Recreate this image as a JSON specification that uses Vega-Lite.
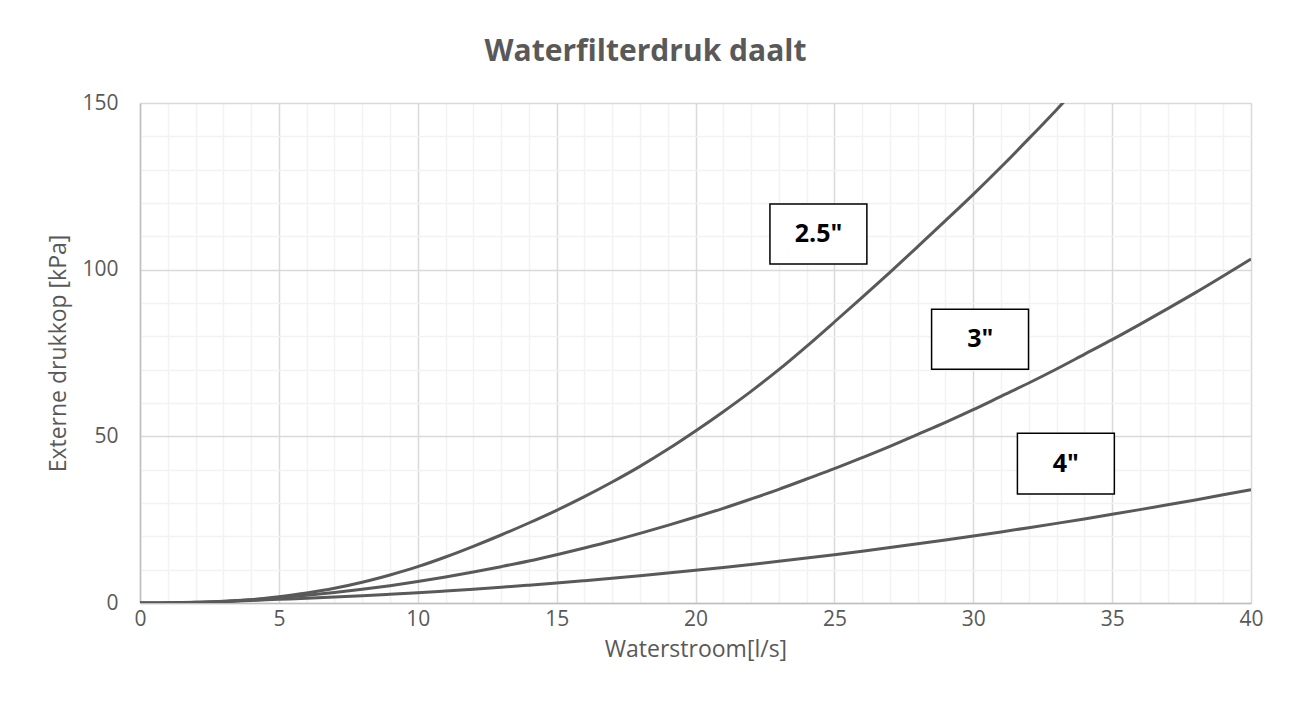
{
  "$schema": "https://vega.github.io/schema/vega-lite/v6.json",
  "width": 1111,
  "height": 500,
  "autosize": {"type": "none"},
  "padding": {"left": 140, "top": 103, "right": 40, "bottom": 117},
  "background": "white",
  "config": {
    "font": "Open Sans",
    "view": {"stroke": null},
    "axis": {"labelColor": "#595959", "titleColor": "#595959", "titleFontWeight": "normal"}
  },
  "title": {
    "text": "Waterfilterdruk daalt",
    "fontSize": 30,
    "fontWeight": "bold",
    "color": "#595959",
    "anchor": "middle",
    "dx": -50,
    "offset": 25
  },
  "datasets": {
    "curves": [
      {"size": "2.5\"", "flow": 0, "pressure": 0}, {"size": "2.5\"", "flow": 1, "pressure": 0}, {"size": "2.5\"", "flow": 2, "pressure": 0.1}, {"size": "2.5\"", "flow": 3, "pressure": 0.4}, {"size": "2.5\"", "flow": 4, "pressure": 1.0}, {"size": "2.5\"", "flow": 5, "pressure": 1.9}, {"size": "2.5\"", "flow": 6, "pressure": 3.0}, {"size": "2.5\"", "flow": 7, "pressure": 4.4}, {"size": "2.5\"", "flow": 8, "pressure": 6.2}, {"size": "2.5\"", "flow": 9, "pressure": 8.4}, {"size": "2.5\"", "flow": 10, "pressure": 10.9}, {"size": "2.5\"", "flow": 11, "pressure": 13.8}, {"size": "2.5\"", "flow": 12, "pressure": 17.0}, {"size": "2.5\"", "flow": 13, "pressure": 20.4}, {"size": "2.5\"", "flow": 14, "pressure": 24.0}, {"size": "2.5\"", "flow": 15, "pressure": 27.8}, {"size": "2.5\"", "flow": 16, "pressure": 31.9}, {"size": "2.5\"", "flow": 17, "pressure": 36.3}, {"size": "2.5\"", "flow": 18, "pressure": 41.0}, {"size": "2.5\"", "flow": 19, "pressure": 46.1}, {"size": "2.5\"", "flow": 20, "pressure": 51.6}, {"size": "2.5\"", "flow": 21, "pressure": 57.4}, {"size": "2.5\"", "flow": 22, "pressure": 63.5}, {"size": "2.5\"", "flow": 23, "pressure": 70.0}, {"size": "2.5\"", "flow": 24, "pressure": 77.0}, {"size": "2.5\"", "flow": 25, "pressure": 84.3}, {"size": "2.5\"", "flow": 26, "pressure": 91.7}, {"size": "2.5\"", "flow": 27, "pressure": 99.2}, {"size": "2.5\"", "flow": 28, "pressure": 106.9}, {"size": "2.5\"", "flow": 29, "pressure": 114.7}, {"size": "2.5\"", "flow": 30, "pressure": 122.6}, {"size": "2.5\"", "flow": 31, "pressure": 130.8}, {"size": "2.5\"", "flow": 32, "pressure": 139.3}, {"size": "2.5\"", "flow": 33, "pressure": 148.0}, {"size": "2.5\"", "flow": 34, "pressure": 157.0},
      {"size": "3\"", "flow": 0, "pressure": 0}, {"size": "3\"", "flow": 1, "pressure": 0.05}, {"size": "3\"", "flow": 2, "pressure": 0.2}, {"size": "3\"", "flow": 3, "pressure": 0.55}, {"size": "3\"", "flow": 4, "pressure": 1.0}, {"size": "3\"", "flow": 5, "pressure": 1.6}, {"size": "3\"", "flow": 6, "pressure": 2.3}, {"size": "3\"", "flow": 7, "pressure": 3.15}, {"size": "3\"", "flow": 8, "pressure": 4.1}, {"size": "3\"", "flow": 9, "pressure": 5.2}, {"size": "3\"", "flow": 10, "pressure": 6.45}, {"size": "3\"", "flow": 11, "pressure": 7.8}, {"size": "3\"", "flow": 12, "pressure": 9.3}, {"size": "3\"", "flow": 13, "pressure": 10.9}, {"size": "3\"", "flow": 14, "pressure": 12.6}, {"size": "3\"", "flow": 15, "pressure": 14.5}, {"size": "3\"", "flow": 16, "pressure": 16.5}, {"size": "3\"", "flow": 17, "pressure": 18.6}, {"size": "3\"", "flow": 18, "pressure": 20.9}, {"size": "3\"", "flow": 19, "pressure": 23.3}, {"size": "3\"", "flow": 20, "pressure": 25.8}, {"size": "3\"", "flow": 21, "pressure": 28.4}, {"size": "3\"", "flow": 22, "pressure": 31.2}, {"size": "3\"", "flow": 23, "pressure": 34.1}, {"size": "3\"", "flow": 24, "pressure": 37.2}, {"size": "3\"", "flow": 25, "pressure": 40.3}, {"size": "3\"", "flow": 26, "pressure": 43.6}, {"size": "3\"", "flow": 27, "pressure": 47.0}, {"size": "3\"", "flow": 28, "pressure": 50.6}, {"size": "3\"", "flow": 29, "pressure": 54.2}, {"size": "3\"", "flow": 30, "pressure": 58.0}, {"size": "3\"", "flow": 31, "pressure": 62.0}, {"size": "3\"", "flow": 32, "pressure": 66.0}, {"size": "3\"", "flow": 33, "pressure": 70.2}, {"size": "3\"", "flow": 34, "pressure": 74.6}, {"size": "3\"", "flow": 35, "pressure": 79.0}, {"size": "3\"", "flow": 36, "pressure": 83.6}, {"size": "3\"", "flow": 37, "pressure": 88.3}, {"size": "3\"", "flow": 38, "pressure": 93.1}, {"size": "3\"", "flow": 39, "pressure": 98.1}, {"size": "3\"", "flow": 40, "pressure": 103.2},
      {"size": "4\"", "flow": 0, "pressure": 0}, {"size": "4\"", "flow": 1, "pressure": 0.05}, {"size": "4\"", "flow": 2, "pressure": 0.2}, {"size": "4\"", "flow": 3, "pressure": 0.45}, {"size": "4\"", "flow": 4, "pressure": 0.75}, {"size": "4\"", "flow": 5, "pressure": 1.1}, {"size": "4\"", "flow": 6, "pressure": 1.43}, {"size": "4\"", "flow": 7, "pressure": 1.79}, {"size": "4\"", "flow": 8, "pressure": 2.19}, {"size": "4\"", "flow": 9, "pressure": 2.63}, {"size": "4\"", "flow": 10, "pressure": 3.1}, {"size": "4\"", "flow": 11, "pressure": 3.61}, {"size": "4\"", "flow": 12, "pressure": 4.15}, {"size": "4\"", "flow": 13, "pressure": 4.73}, {"size": "4\"", "flow": 14, "pressure": 5.35}, {"size": "4\"", "flow": 15, "pressure": 6.0}, {"size": "4\"", "flow": 16, "pressure": 6.69}, {"size": "4\"", "flow": 17, "pressure": 7.41}, {"size": "4\"", "flow": 18, "pressure": 8.17}, {"size": "4\"", "flow": 19, "pressure": 8.97}, {"size": "4\"", "flow": 20, "pressure": 9.8}, {"size": "4\"", "flow": 21, "pressure": 10.67}, {"size": "4\"", "flow": 22, "pressure": 11.57}, {"size": "4\"", "flow": 23, "pressure": 12.51}, {"size": "4\"", "flow": 24, "pressure": 13.49}, {"size": "4\"", "flow": 25, "pressure": 14.5}, {"size": "4\"", "flow": 26, "pressure": 15.55}, {"size": "4\"", "flow": 27, "pressure": 16.63}, {"size": "4\"", "flow": 28, "pressure": 17.75}, {"size": "4\"", "flow": 29, "pressure": 18.91}, {"size": "4\"", "flow": 30, "pressure": 20.1}, {"size": "4\"", "flow": 31, "pressure": 21.33}, {"size": "4\"", "flow": 32, "pressure": 22.59}, {"size": "4\"", "flow": 33, "pressure": 23.89}, {"size": "4\"", "flow": 34, "pressure": 25.23}, {"size": "4\"", "flow": 35, "pressure": 26.6}, {"size": "4\"", "flow": 36, "pressure": 28.01}, {"size": "4\"", "flow": 37, "pressure": 29.45}, {"size": "4\"", "flow": 38, "pressure": 30.93}, {"size": "4\"", "flow": 39, "pressure": 32.45}, {"size": "4\"", "flow": 40, "pressure": 34.0}
    ],
    "labels": [
      {"label": "2.5\"", "flow": 24.43, "pressure": 110.7, "flowStart": 22.68, "flowEnd": 26.17, "pressureLow": 101.7, "pressureHigh": 119.7},
      {"label": "3\"", "flow": 30.25, "pressure": 79.1, "flowStart": 28.5, "flowEnd": 31.99, "pressureLow": 70.1, "pressureHigh": 88.1},
      {"label": "4\"", "flow": 33.33, "pressure": 41.8, "flowStart": 31.59, "flowEnd": 35.08, "pressureLow": 32.7, "pressureHigh": 50.9}
    ]
  },
  "layer": [
    {
      "data": {"name": "curves"},
      "mark": {"type": "line", "color": "#595959", "strokeWidth": 3, "interpolate": "monotone", "clip": true},
      "encoding": {
        "x": {
          "field": "flow", "type": "quantitative",
          "title": "Waterstroom[l/s]",
          "scale": {"domain": [0, 40], "nice": false, "zero": true},
          "axis": {
            "values": [0,1,2,3,4,5,6,7,8,9,10,11,12,13,14,15,16,17,18,19,20,21,22,23,24,25,26,27,28,29,30,31,32,33,34,35,36,37,38,39,40],
            "labelExpr": "datum.value % 5 === 0 ? datum.label : ''",
            "labelOverlap": false, "labelFlush": false, "labelFontSize": 21, "labelPadding": 5,
            "ticks": false, "tickSize": 0, "grid": true, "gridWidth": 1.5,
            "gridColor": {"condition": {"test": "datum.value % 5 === 0", "value": "#d9d9d9"}, "value": "#f2f2f2"},
            "domainColor": "#bfbfbf", "domainWidth": 1.5, "titleFontSize": 23, "titlePadding": 9
          }
        },
        "y": {
          "field": "pressure", "type": "quantitative",
          "title": "Externe drukkop [kPa]",
          "scale": {"domain": [0, 150], "nice": false},
          "axis": {
            "values": [0,10,20,30,40,50,60,70,80,90,100,110,120,130,140,150],
            "labelExpr": "datum.value % 50 === 0 ? datum.label : ''",
            "labelOverlap": false, "labelFlush": false, "labelFontSize": 21, "labelPadding": 22,
            "ticks": false, "tickSize": 0, "grid": true, "gridWidth": 1.5,
            "gridColor": {"condition": {"test": "datum.value % 50 === 0", "value": "#d9d9d9"}, "value": "#f2f2f2"},
            "domainColor": "#bfbfbf", "domainWidth": 1.5, "titleFontSize": 23, "titlePadding": 11
          }
        },
        "detail": {"field": "size", "type": "nominal"},
        "order": {"field": "flow", "type": "quantitative"}
      }
    },
    {
      "data": {"name": "labels"},
      "mark": {"type": "rect", "fill": "white", "stroke": "black", "strokeWidth": 1.5},
      "encoding": {
        "x": {
          "field": "flowStart", "type": "quantitative", "title": "Waterstroom[l/s]",
          "axis": {
            "values": [0,1,2,3,4,5,6,7,8,9,10,11,12,13,14,15,16,17,18,19,20,21,22,23,24,25,26,27,28,29,30,31,32,33,34,35,36,37,38,39,40],
            "labelExpr": "datum.value % 5 === 0 ? datum.label : ''",
            "labelOverlap": false, "labelFlush": false, "labelFontSize": 21, "labelPadding": 5,
            "ticks": false, "tickSize": 0, "grid": true, "gridWidth": 1.5,
            "gridColor": {"condition": {"test": "datum.value % 5 === 0", "value": "#d9d9d9"}, "value": "#f2f2f2"},
            "domainColor": "#bfbfbf", "domainWidth": 1.5, "titleFontSize": 23, "titlePadding": 9
          }
        },
        "x2": {"field": "flowEnd"},
        "y": {
          "field": "pressureLow", "type": "quantitative", "title": "Externe drukkop [kPa]",
          "axis": {
            "values": [0,10,20,30,40,50,60,70,80,90,100,110,120,130,140,150],
            "labelExpr": "datum.value % 50 === 0 ? datum.label : ''",
            "labelOverlap": false, "labelFlush": false, "labelFontSize": 21, "labelPadding": 22,
            "ticks": false, "tickSize": 0, "grid": true, "gridWidth": 1.5,
            "gridColor": {"condition": {"test": "datum.value % 50 === 0", "value": "#d9d9d9"}, "value": "#f2f2f2"},
            "domainColor": "#bfbfbf", "domainWidth": 1.5, "titleFontSize": 23, "titlePadding": 11
          }
        },
        "y2": {"field": "pressureHigh"}
      }
    },
    {
      "data": {"name": "labels"},
      "mark": {"type": "text", "font": "Open Sans", "fontSize": 25, "fontWeight": "bold", "color": "black", "align": "center", "baseline": "middle"},
      "encoding": {
        "x": {
          "field": "flow", "type": "quantitative", "title": "Waterstroom[l/s]",
          "axis": {
            "values": [0,1,2,3,4,5,6,7,8,9,10,11,12,13,14,15,16,17,18,19,20,21,22,23,24,25,26,27,28,29,30,31,32,33,34,35,36,37,38,39,40],
            "labelExpr": "datum.value % 5 === 0 ? datum.label : ''",
            "labelOverlap": false, "labelFlush": false, "labelFontSize": 21, "labelPadding": 5,
            "ticks": false, "tickSize": 0, "grid": true, "gridWidth": 1.5,
            "gridColor": {"condition": {"test": "datum.value % 5 === 0", "value": "#d9d9d9"}, "value": "#f2f2f2"},
            "domainColor": "#bfbfbf", "domainWidth": 1.5, "titleFontSize": 23, "titlePadding": 9
          }
        },
        "y": {
          "field": "pressure", "type": "quantitative", "title": "Externe drukkop [kPa]",
          "axis": {
            "values": [0,10,20,30,40,50,60,70,80,90,100,110,120,130,140,150],
            "labelExpr": "datum.value % 50 === 0 ? datum.label : ''",
            "labelOverlap": false, "labelFlush": false, "labelFontSize": 21, "labelPadding": 22,
            "ticks": false, "tickSize": 0, "grid": true, "gridWidth": 1.5,
            "gridColor": {"condition": {"test": "datum.value % 50 === 0", "value": "#d9d9d9"}, "value": "#f2f2f2"},
            "domainColor": "#bfbfbf", "domainWidth": 1.5, "titleFontSize": 23, "titlePadding": 11
          }
        },
        "text": {"field": "label"}
      }
    }
  ]
}
